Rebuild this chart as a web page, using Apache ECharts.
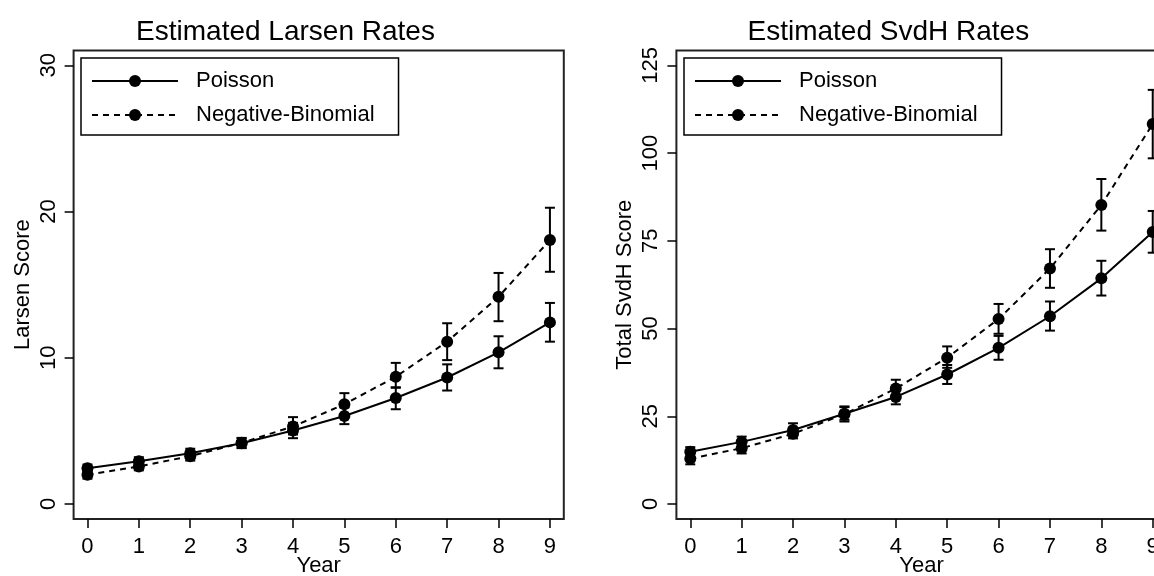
<!DOCTYPE html>
<html>
<head>
<meta charset="utf-8">
<script src="https://cdn.jsdelivr.net/npm/echarts@6/dist/echarts.min.js"></script>
<style>
html,body{margin:0;padding:0;background:#fff;}
#chart{width:1154px;height:576px;}
</style>
</head>
<body>
<div id="chart"></div>
<script>
// ---------- data ----------
const years = [0, 1, 2, 3, 4, 5, 6, 7, 8, 9];

const larsenPoisson   = [2.45, 2.93, 3.47, 4.15, 5.03, 6.02, 7.25, 8.65, 10.37, 12.42];
const larsenPoissonLo = [2.20, 2.65, 3.17, 3.82, 4.50, 5.46, 6.48, 7.76, 9.28, 11.10];
const larsenPoissonHi = [2.70, 3.20, 3.78, 4.50, 5.55, 6.60, 7.95, 9.55, 11.47, 13.75];
const larsenNB        = [2.00, 2.57, 3.27, 4.18, 5.30, 6.82, 8.70, 11.10, 14.17, 18.05];
const larsenNBLo      = [1.73, 2.30, 2.97, 3.85, 4.75, 6.10, 7.98, 9.84, 12.50, 15.88];
const larsenNBHi      = [2.27, 2.85, 3.58, 4.52, 5.94, 7.58, 9.65, 12.36, 15.80, 20.26];

const svdhPoisson   = [14.9, 17.7, 21.1, 25.7, 30.5, 36.9, 44.5, 53.5, 64.3, 77.5];
const svdhPoissonLo = [13.6, 16.2, 19.4, 24.0, 28.4, 34.2, 41.1, 49.4, 59.4, 71.6];
const svdhPoissonHi = [16.2, 19.2, 23.0, 27.6, 32.6, 39.6, 47.9, 57.7, 69.3, 83.5];
const svdhNB        = [12.9, 15.9, 20.0, 25.6, 32.9, 41.7, 52.7, 67.1, 85.2, 108.3];
const svdhNBLo      = [11.3, 14.4, 18.7, 23.5, 30.4, 38.8, 48.5, 61.6, 77.9, 98.5];
const svdhNBHi      = [14.5, 17.5, 21.7, 27.8, 35.4, 44.9, 57.0, 72.6, 92.6, 118.0];

const larsenTicks = [0, 10, 20, 30];
const svdhTicks = [0, 25, 50, 75, 100, 125];

const titles = ['Estimated Larsen Rates', 'Estimated SvdH Rates'];
const yNames = ['Larsen Score', 'Total SvdH Score'];
const seriesNames = ['Poisson', 'Negative-Binomial'];

// ---------- helpers ----------
const FONT = "'Liberation Sans', Arial, Helvetica, sans-serif";
const INK = '#000';

function pairs(vals) { return years.map((y, i) => [y, vals[i]]); }

function lineSeries(name, gi, vals, dashed) {
  return {
    name: name, type: 'line', xAxisIndex: gi, yAxisIndex: gi,
    data: pairs(vals), symbol: 'circle', symbolSize: 12,
    itemStyle: { color: INK },
    lineStyle: { color: INK, width: 2, type: dashed ? [6, 5] : 'solid' },
    z: 4, silent: true
  };
}

function errSeries(name, gi, lo, hi) {
  return {
    name: name, type: 'custom', xAxisIndex: gi, yAxisIndex: gi, z: 3, silent: true,
    data: years.map((y, i) => [y, lo[i], hi[i]]),
    encode: { x: 0, y: [1, 2] },
    renderItem: function (params, api) {
      const x = api.value(0);
      const p1 = api.coord([x, api.value(1)]);
      const p2 = api.coord([x, api.value(2)]);
      const w = 5;
      const style = { stroke: INK, lineWidth: 2, fill: null };
      return {
        type: 'group', children: [
          { type: 'line', shape: { x1: p1[0], y1: p1[1], x2: p2[0], y2: p2[1] }, style: style },
          { type: 'line', shape: { x1: p1[0] - w, y1: p1[1], x2: p1[0] + w, y2: p1[1] }, style: style },
          { type: 'line', shape: { x1: p2[0] - w, y1: p2[1], x2: p2[0] + w, y2: p2[1] }, style: style }
        ]
      };
    }
  };
}

function xAxis(gi) {
  return {
    gridIndex: gi, type: 'value', min: -0.27, max: 9.27, position: 'bottom',
    axisLine: { show: false, onZero: false }, splitLine: { show: false },
    axisTick: { show: true, length: 9, customValues: years, lineStyle: { color: INK, width: 1.5 } },
    axisLabel: { customValues: years, fontSize: 22, color: INK, fontFamily: FONT, margin: 17 },
    name: 'Year', nameLocation: 'middle', nameGap: 36, nameMoveOverlap: false,
    nameTextStyle: { fontSize: 22, color: INK, fontFamily: FONT }
  };
}

function yAxis(gi, min, max, ticks, name) {
  return {
    gridIndex: gi, type: 'value', min: min, max: max, position: 'left',
    axisLine: { show: false, onZero: false }, splitLine: { show: false },
    axisTick: { show: true, length: 9, customValues: ticks, lineStyle: { color: INK, width: 1.5 } },
    axisLabel: { customValues: ticks, fontSize: 22, color: INK, fontFamily: FONT, rotate: 90, margin: 14 },
    name: name, nameLocation: 'middle', nameGap: 40, nameMoveOverlap: false,
    nameTextStyle: { fontSize: 22, color: INK, fontFamily: FONT }
  };
}

function legend(left) {
  return {
    left: left, top: 58, orient: 'vertical',
    data: seriesNames,
    itemWidth: 86, itemHeight: 15, itemGap: 12,
    padding: [12, 24, 9, 10],
    borderColor: INK, borderWidth: 1.5, backgroundColor: '#fff',
    selectedMode: false,
    textStyle: { fontSize: 22, color: INK, fontFamily: FONT, padding: [0, 0, 0, 13] }
  };
}

function grid(left) {
  return {
    left: left, top: 50.4, width: 490.2, height: 468.5,
    show: true, borderColor: '#222', borderWidth: 2, backgroundColor: 'transparent',
    containLabel: false, outerBoundsMode: 'none'
  };
}

// ---------- chart ----------
const chart = echarts.init(document.getElementById('chart'), null, { renderer: 'canvas' });
chart.setOption({
  animation: false,
  backgroundColor: '#fff',
  title: [
    { text: titles[0], left: 285.5, top: 18, textAlign: 'center', padding: 0,
      textStyle: { fontSize: 28, fontWeight: 'normal', color: INK, fontFamily: FONT } },
    { text: titles[1], left: 888.3, top: 18, textAlign: 'center', padding: 0,
      textStyle: { fontSize: 28, fontWeight: 'normal', color: INK, fontFamily: FONT } }
  ],
  legend: [legend(81), legend(684)],
  grid: [grid(73.6), grid(676.4)],
  xAxis: [xAxis(0), xAxis(1)],
  yAxis: [
    yAxis(0, -1.02, 31.02, larsenTicks, yNames[0]),
    yAxis(1, -4.25, 129.25, svdhTicks, yNames[1])
  ],
  series: [
    errSeries('Poisson CI', 0, larsenPoissonLo, larsenPoissonHi),
    errSeries('Negative-Binomial CI', 0, larsenNBLo, larsenNBHi),
    lineSeries(seriesNames[0], 0, larsenPoisson, false),
    lineSeries(seriesNames[1], 0, larsenNB, true),
    errSeries('Poisson CI', 1, svdhPoissonLo, svdhPoissonHi),
    errSeries('Negative-Binomial CI', 1, svdhNBLo, svdhNBHi),
    lineSeries(seriesNames[0], 1, svdhPoisson, false),
    lineSeries(seriesNames[1], 1, svdhNB, true)
  ]
});
</script>
</body>
</html>
